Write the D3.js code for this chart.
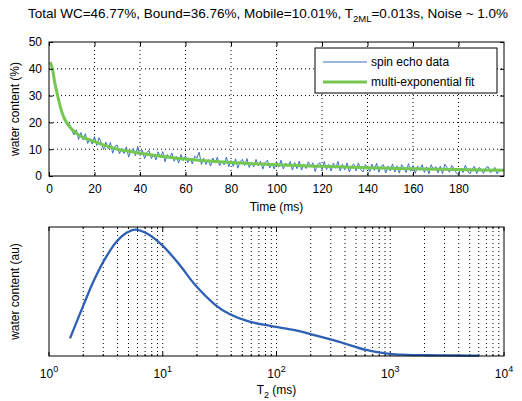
<!DOCTYPE html>
<html>
<head>
<meta charset="utf-8">
<script src="https://cdn.jsdelivr.net/npm/d3@7"></script>
<style>
  body { margin: 0; background: #fff; }
  svg { font-family: "Liberation Sans", Arial, sans-serif; }
  .grid line { stroke: #000; stroke-dasharray: 1,3; stroke-width: 1; }
</style>
</head>
<body>
<div id="chart"></div>
<script>
// Spin echo data (one echo per ms)
const echoTimes = d3.range(1, 200);
const echoValues = [
  41.5, 37.2, 33.9, 29.1, 26.2, 22.6, 21.6, 19.3, 19.5, 17.0,
  15.3, 17.2, 13.6, 16.2, 13.5, 15.8, 12.2, 14.0, 11.9, 14.7,
  11.4, 14.3, 12.3, 9.9, 12.6, 10.2, 12.5, 8.5, 11.1, 11.5,
  8.3, 10.3, 8.4, 10.9, 7.1, 9.4, 10.2, 7.6, 11.0, 7.6,
  9.6, 6.5, 8.8, 9.5, 6.5, 8.1, 6.0, 9.0, 6.8, 9.1,
  5.3, 8.0, 6.7, 8.6, 5.5, 7.3, 4.8, 8.0, 5.7, 7.5,
  5.0, 6.6, 4.5, 7.4, 6.7, 8.9, 4.3, 6.6, 4.3, 6.2,
  3.7, 6.7, 4.8, 7.0, 3.8, 5.5, 4.2, 7.1, 3.5, 5.8,
  3.6, 6.4, 2.9, 5.4, 6.2, 3.9, 6.5, 3.2, 5.1, 3.4,
  6.2, 3.8, 5.5, 2.6, 5.0, 5.9, 3.0, 4.6, 2.6, 5.4,
  3.3, 5.9, 2.6, 4.8, 3.6, 5.4, 2.2, 5.0, 2.7, 5.6,
  2.2, 4.4, 2.8, 5.3, 3.5, 4.9, 1.7, 4.1, 5.0, 2.3,
  5.4, 2.4, 4.3, 1.9, 4.8, 2.9, 5.5, 1.9, 4.3, 2.3,
  4.8, 1.5, 3.7, 4.5, 1.9, 4.9, 2.4, 1.5, 4.2, 3.4,
  1.6, 4.4, 2.1, 4.8, 1.4, 3.6, 4.2, 1.1, 3.7, 1.9,
  4.5, 1.5, 3.8, 1.1, 4.2, 3.1, 1.3, 4.6, 1.8, 3.9,
  1.0, 3.7, 2.1, 4.2, 1.3, 3.4, 0.8, 4.2, 2.3, 3.5,
  1.2, 3.7, 0.9, 4.4, 3.1, 1.4, 3.9, 2.9, 1.2, 0.4,
  3.0, 1.3, 4.0, 1.9, 0.8, 2.6, 3.6, 0.9, 3.2, 2.4,
  1.0, 3.0, 3.5, 1.3, 1.9, 3.2, 0.8, 2.5, 2.2
];

// Multi-exponential fit
const fitTimes = [0.5, 1.5, 2.5, 3.8, 5, 6, 7, 8.5, 10, 12, 15, 18, 20, 25, 30, 35, 40, 50, 60, 70, 80, 100, 120, 140, 160, 180, 200];
const fitValues = [42.5, 40, 35, 30, 25.8, 23, 21, 19, 17.5, 16, 14.4, 13.4, 12.8, 11.3, 10, 9.2, 8.5, 7.3, 6.3, 5.6, 5, 4.2, 3.6, 3.1, 2.7, 2.4, 2.1];

// T2 distribution
const t2Values = [1.53, 2.0, 2.45, 3.0, 3.92, 4.8, 5.8, 7.2, 9.86, 14.1, 19.3, 29.1, 38.6, 55.9, 86.3, 148, 195, 357, 612, 980, 1400, 2057, 4000, 6040];
const t2Amplitude = [0.137, 0.39, 0.575, 0.73, 0.886, 0.955, 0.98, 0.951, 0.86, 0.705, 0.55, 0.395, 0.325, 0.27, 0.235, 0.198, 0.172, 0.11, 0.047, 0.016, 0.009, 0.006, 0.004, 0.003];

const topXTicks = [0, 20, 40, 60, 80, 100, 120, 140, 160, 180];
const topYTicks = [0, 10, 20, 30, 40, 50];
const bottomXTicks = [1, 10, 100, 1000, 10000];

const legendItems = [
  { label: "spin echo data", color: "#3b6fc6", width: 1 },
  { label: "multi-exponential fit", color: "#74c850", width: 3 }
];

const width = 522, height = 401;
const left = 49, right = 504;

const svg = d3.select("#chart").append("svg")
  .attr("width", width)
  .attr("height", height);

// Title
const title = svg.append("text")
  .attr("x", 268)
  .attr("y", 18)
  .attr("text-anchor", "middle")
  .style("font-size", "13.5px");
title.append("tspan").text("Total WC=46.77%, Bound=36.76%, Mobile=10.01%, T");
title.append("tspan").attr("dy", 4).style("font-size", "9.5px").text("2ML");
title.append("tspan").attr("dy", -4).text("=0.013s, Noise ~ 1.0%");

// ---------- Top panel ----------
const top1 = 42, bot1 = 176;
const x1 = d3.scaleLinear().domain([0, 200]).range([left, right]);
const y1 = d3.scaleLinear().domain([0, 50]).range([bot1, top1]);

// grid
svg.append("g").attr("class", "grid")
  .selectAll("line.v").data(topXTicks.filter(d => d > 0)).enter().append("line")
  .attr("x1", d => x1(d)).attr("x2", d => x1(d))
  .attr("y1", top1).attr("y2", bot1);
svg.append("g").attr("class", "grid")
  .selectAll("line.h").data(topYTicks.filter(d => d > 0 && d < 50)).enter().append("line")
  .attr("x1", left).attr("x2", right)
  .attr("y1", d => y1(d)).attr("y2", d => y1(d));

// data line
svg.append("path")
  .datum(echoTimes.map((t, i) => [t, echoValues[i]]))
  .attr("fill", "none")
  .attr("stroke", legendItems[0].color)
  .attr("stroke-width", 1)
  .attr("d", d3.line().x(d => x1(d[0])).y(d => y1(d[1])));

// fit line
svg.append("path")
  .datum(fitTimes.map((t, i) => [t, fitValues[i]]))
  .attr("fill", "none")
  .attr("stroke", legendItems[1].color)
  .attr("stroke-width", 3)
  .attr("d", d3.line().x(d => x1(d[0])).y(d => y1(d[1])).curve(d3.curveMonotoneX));

// axes (ticks inward, on all sides)
svg.append("g")
  .attr("transform", `translate(0,${bot1})`)
  .call(d3.axisBottom(x1).tickValues(topXTicks).tickSizeInner(-4).tickSizeOuter(0).tickPadding(8))
  .call(g => g.select(".domain").remove())
  .call(g => g.selectAll("text").style("font-size", "12px").attr("fill", "#000").style("font-family", "inherit"));
svg.append("g")
  .attr("transform", `translate(0,${top1})`)
  .call(d3.axisTop(x1).tickValues(topXTicks).tickSizeInner(-4).tickSizeOuter(0).tickFormat(""))
  .call(g => g.select(".domain").remove());
svg.append("g")
  .attr("transform", `translate(${left},0)`)
  .call(d3.axisLeft(y1).tickValues(topYTicks).tickSizeInner(-4).tickSizeOuter(0).tickPadding(7))
  .call(g => g.select(".domain").remove())
  .call(g => g.selectAll("text").style("font-size", "12px").attr("fill", "#000").style("font-family", "inherit"));
svg.append("g")
  .attr("transform", `translate(${right},0)`)
  .call(d3.axisRight(y1).tickValues(topYTicks).tickSizeInner(-4).tickSizeOuter(0).tickFormat(""))
  .call(g => g.select(".domain").remove());

svg.append("rect")
  .attr("x", left).attr("y", top1)
  .attr("width", right - left).attr("height", bot1 - top1)
  .attr("fill", "none").attr("stroke", "#000").attr("stroke-width", 1);

svg.append("text")
  .attr("x", (left + right) / 2).attr("y", 211)
  .attr("text-anchor", "middle")
  .style("font-size", "12px")
  .text("Time (ms)");

svg.append("text")
  .attr("transform", `translate(19,${(top1 + bot1) / 2}) rotate(-90)`)
  .attr("text-anchor", "middle")
  .style("font-size", "12px")
  .text("water content (%)");

// legend
const legend = svg.append("g").attr("transform", "translate(315,48)");
legend.append("rect")
  .attr("width", 182).attr("height", 45)
  .attr("fill", "#fff").attr("stroke", "#000");
legendItems.forEach((item, i) => {
  const ly = 14 + i * 20;
  legend.append("line")
    .attr("x1", 8).attr("x2", 52).attr("y1", ly).attr("y2", ly)
    .attr("stroke", item.color).attr("stroke-width", item.width);
  legend.append("text")
    .attr("x", 56).attr("y", ly + 4)
    .style("font-size", "12px")
    .text(item.label);
});

// ---------- Bottom panel ----------
const top2 = 227, bot2 = 356;
const x2 = d3.scaleLog().domain([1, 10000]).range([left, right]);
const y2 = d3.scaleLinear().domain([0, 1]).range([bot2, top2]);

const minorTicks = [];
[1, 10, 100, 1000].forEach(dec => {
  for (let k = 2; k <= 9; k++) minorTicks.push(dec * k);
});
const gridTicks = minorTicks.concat([10, 100, 1000]);

svg.append("g").attr("class", "grid")
  .selectAll("line").data(gridTicks).enter().append("line")
  .attr("x1", d => x2(d)).attr("x2", d => x2(d))
  .attr("y1", top2).attr("y2", bot2);

// tick marks inward, bottom and top
[bot2, top2].forEach((yy, side) => {
  const dir = side === 0 ? -1 : 1;
  svg.append("g").selectAll("line.minor").data(minorTicks).enter().append("line")
    .attr("x1", d => x2(d)).attr("x2", d => x2(d))
    .attr("y1", yy).attr("y2", yy + dir * 2)
    .attr("stroke", "#000");
  svg.append("g").selectAll("line.major").data(bottomXTicks).enter().append("line")
    .attr("x1", d => x2(d)).attr("x2", d => x2(d))
    .attr("y1", yy).attr("y2", yy + dir * 4)
    .attr("stroke", "#000");
});

svg.append("path")
  .datum(t2Values.map((t, i) => [t, t2Amplitude[i]]))
  .attr("fill", "none")
  .attr("stroke", "#2d5fb4")
  .attr("stroke-width", 2.3)
  .attr("d", d3.line().x(d => x2(d[0])).y(d => y2(d[1])).curve(d3.curveCatmullRom.alpha(0.5)));

svg.append("rect")
  .attr("x", left).attr("y", top2)
  .attr("width", right - left).attr("height", bot2 - top2)
  .attr("fill", "none").attr("stroke", "#000").attr("stroke-width", 1);

// x tick labels 10^n
const tickLbl = svg.append("g").selectAll("text").data(bottomXTicks).enter().append("text")
  .attr("x", d => x2(d))
  .attr("y", 378)
  .attr("text-anchor", "middle")
  .style("font-size", "12px");
tickLbl.append("tspan").text("10");
tickLbl.append("tspan").attr("dy", -6).style("font-size", "9px").text(d => Math.round(Math.log10(d)));

const t2Label = svg.append("text")
  .attr("x", (left + right) / 2).attr("y", 394)
  .attr("text-anchor", "middle")
  .style("font-size", "12px");
t2Label.append("tspan").text("T");
t2Label.append("tspan").attr("dy", 4).style("font-size", "9px").text("2");
t2Label.append("tspan").attr("dy", -4).text(" (ms)");

svg.append("text")
  .attr("transform", `translate(19,${(top2 + bot2) / 2}) rotate(-90)`)
  .attr("text-anchor", "middle")
  .style("font-size", "12px")
  .text("water content (au)");
</script>
</body>
</html>
